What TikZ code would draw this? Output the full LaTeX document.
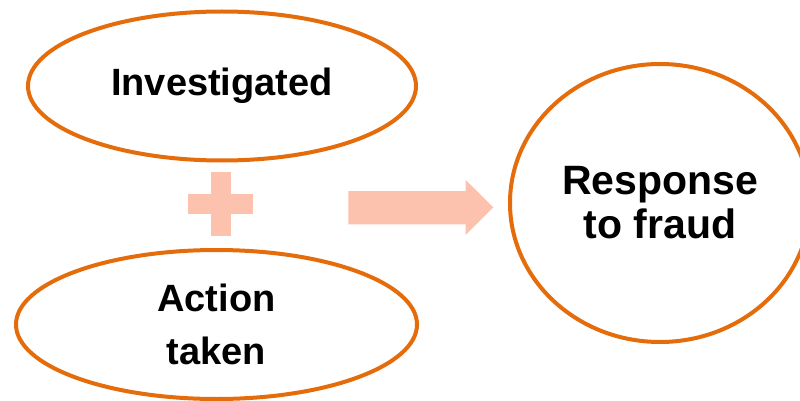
\documentclass[tikz,border=0pt]{standalone}
\usepackage{fontspec}
\setmainfont{Liberation Sans}
\usetikzlibrary{shapes.geometric}
\definecolor{rim}{HTML}{E46C0A}
\definecolor{peach}{HTML}{FCC2AE}
\tikzset{
  oval/.style={ellipse, draw=rim, line width=4pt, fill=white, inner sep=0pt,
    align=center, text=black},
  bigtext/.style={font=\bfseries\fontsize{38}{53}\selectfont},
  peachfill/.style={fill=peach, draw=none}
}
\begin{document}
\begin{tikzpicture}[x=1pt, y=-1pt]
  \useasboundingbox (0,0) rectangle (800,401);

  % the two inputs
  \node[oval, bigtext, minimum width=388pt, minimum height=149pt] (inv) at (222,86) {Investigated};
  \node[oval, bigtext, minimum width=401pt, minimum height=149pt] (act) at (216.5,324.5) {Action\\taken};

  % the result
  \node[oval, font=\bfseries\fontsize{41}{44}\selectfont, minimum width=300pt, minimum height=278pt] (resp) at (660,203) {Response\\to fraud};

  % plus sign between the inputs
  \fill[peachfill] (210.7,172.3) rectangle (231,236);
  \fill[peachfill] (188.3,193.7) rectangle (252.7,214.3);

  % block arrow towards the result
  \coordinate (tail) at (348.3,207.5);
  \coordinate (tip) at (493.3,207.3);
  \fill[peachfill] (348.3,191) -- (465.7,191) -- (465.7,180) -- (tip)
    -- (465.7,235) -- (465.7,224.3) -- (348.3,224.3) -- cycle;
\end{tikzpicture}
\end{document}
